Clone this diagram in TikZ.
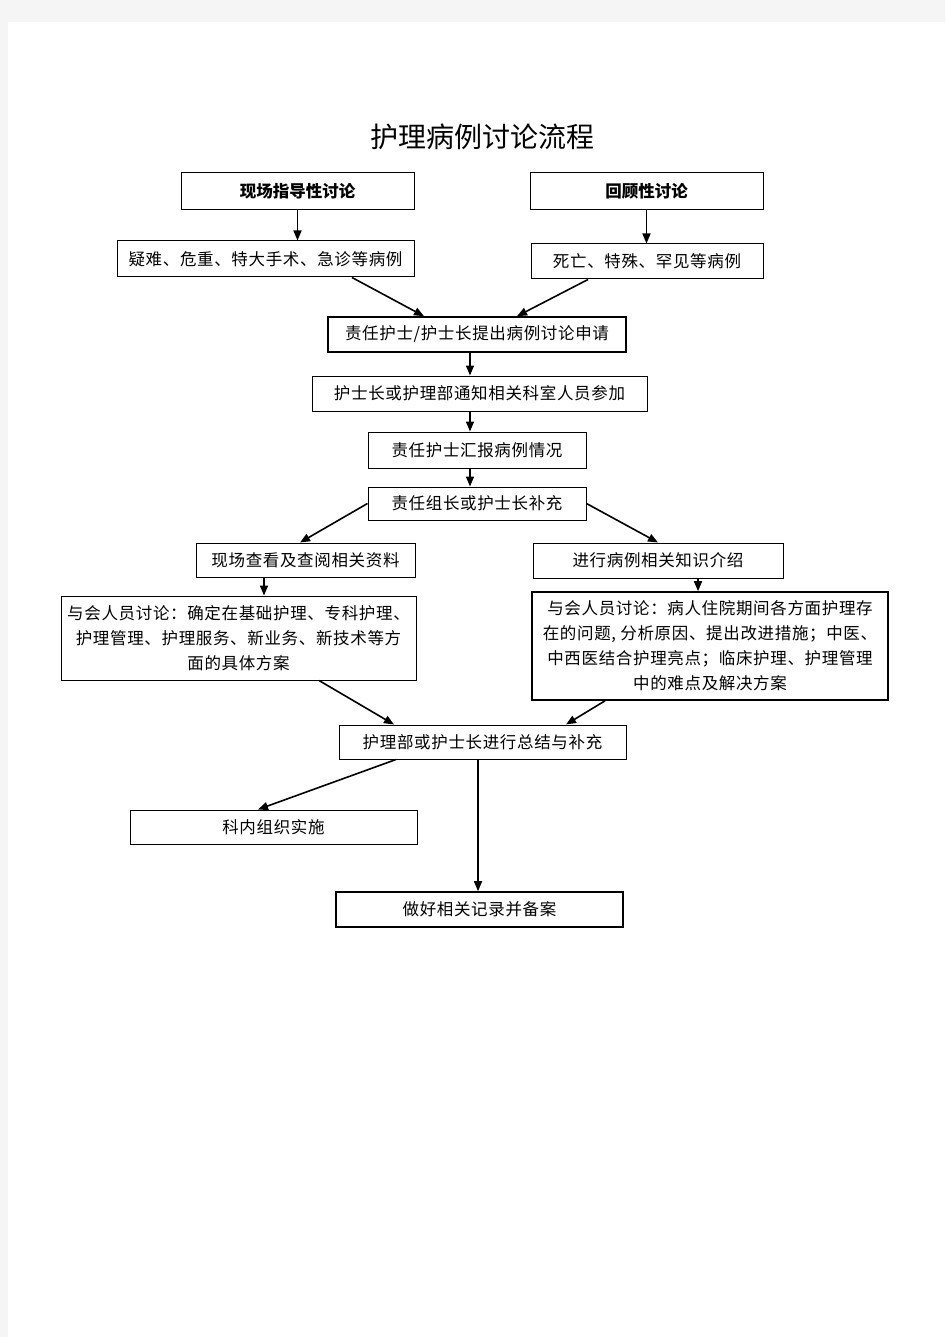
\documentclass[tikz,border=0pt]{standalone}
\usepackage{fontspec}
\setmainfont{Noto Sans CJK SC}
\usetikzlibrary{arrows.meta}
\begin{document}
\begin{tikzpicture}[x=1pt,y=-1pt,
  box/.style={draw=black,line width=1pt,fill=white,inner sep=2pt,align=center,font=\fontsize{16.5}{25}\selectfont\addfontfeature{LetterSpace=4}},
  thick box/.style={box,line width=1.6pt},
  arr/.style={draw=black,line width=1.6pt,-{Triangle[length=10pt,width=8pt]}}]
\useasboundingbox (0,0) rectangle (945,1337);
\fill[black!4] (0,0) rectangle (945,1337);
\fill[white] (8,22) rectangle (945,1337);
\node[font=\fontsize{28}{30}\selectfont] (title) at (482,137) {护理病例讨论流程};
\node[box,minimum width=233pt,minimum height=37pt,font=\fontsize{16.5}{20}\selectfont\bfseries] (b1) at (297.5,191.5) {现场指导性讨论};
\node[box,minimum width=233pt,minimum height=37pt,font=\fontsize{16.5}{20}\selectfont\bfseries] (b2) at (646.5,191.5) {回顾性讨论};
\node[box,minimum width=297pt,minimum height=36pt] (b3) at (265.5,259) {疑难、危重、特大手术、急诊等病例};
\node[box,minimum width=232pt,minimum height=35pt] (b4) at (647,261.5) {死亡、特殊、罕见等病例};
\node[thick box,minimum width=298pt,minimum height=35pt] (b5) at (477,334.5) {责任护士/护士长提出病例讨论申请};
\node[box,minimum width=335pt,minimum height=35pt] (b6) at (479.5,393.5) {护士长或护理部通知相关科室人员参加};
\node[box,minimum width=218pt,minimum height=36pt] (b7) at (477,450) {责任护士汇报病例情况};
\node[box,minimum width=218pt,minimum height=33pt] (b8) at (477,503.5) {责任组长或护士长补充};
\node[box,minimum width=219pt,minimum height=34pt] (b9) at (305.5,560) {现场查看及查阅相关资料};
\node[box,minimum width=250pt,minimum height=35pt] (b10) at (658,560.5) {进行病例相关知识介绍};
\node[box,minimum width=355pt,minimum height=84pt] (b11) at (238.5,638) {与会人员讨论：确定在基础护理、专科护理、\\护理管理、护理服务、新业务、新技术等方\\面的具体方案};
\node[thick box,minimum width=356pt,minimum height=108pt] (b12) at (710,646) {与会人员讨论：病人住院期间各方面护理存\\在的问题, 分析原因、提出改进措施；中医、\\中西医结合护理亮点；临床护理、护理管理\\中的难点及解决方案};
\node[box,minimum width=287pt,minimum height=34pt] (b13) at (482.5,742) {护理部或护士长进行总结与补充};
\node[box,minimum width=287pt,minimum height=34pt] (b14) at (273.5,827) {科内组织实施};
\node[thick box,minimum width=287pt,minimum height=35pt] (b15) at (479.5,909.5) {做好相关记录并备案};
\draw[arr] (b1.south) -- (b3.north -| b1.south);
\draw[arr] (b2.south) -- (b4.north -| b2.south);
\draw[arr] ([xshift=86.5pt]b3.south) -- ([xshift=-53pt]b5.north);
\draw[arr] ([xshift=-59pt]b4.south) -- ([xshift=40pt]b5.north);
\draw[arr] ([xshift=-7pt]b5.south) -- ([xshift=-9.5pt]b6.north);
\draw[arr] ([xshift=-9.5pt]b6.south) -- ([xshift=-7pt]b7.north);
\draw[arr] ([xshift=-7pt]b7.south) -- ([xshift=-7pt]b8.north);
\draw[arr] (b8.west) -- ([xshift=-5.5pt]b9.north);
\draw[arr] (b8.east) -- (b10.north);
\draw[arr] ([xshift=-41.5pt]b9.south) -- ([xshift=25.5pt]b11.north);
\draw[arr] ([xshift=40pt]b10.south) -- ([xshift=-12pt]b12.north);
\draw[arr] ([xshift=80.5pt]b11.south) -- ([xshift=-88.5pt]b13.north);
\draw[arr] ([xshift=-105pt]b12.south) -- ([xshift=83.5pt]b13.north);
\draw[arr] ([xshift=-86.5pt]b13.south) -- ([xshift=-15.5pt]b14.north);
\draw[arr] ([xshift=-4.5pt]b13.south) -- ([xshift=-1.5pt]b15.north);
\end{tikzpicture}
\end{document}
